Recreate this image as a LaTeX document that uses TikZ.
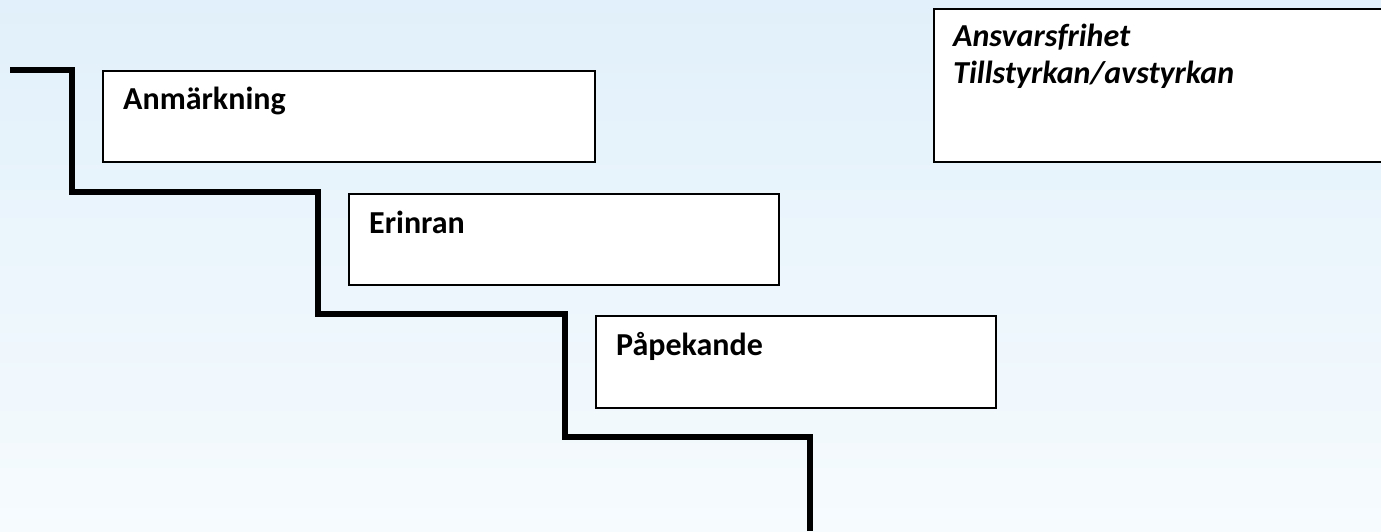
\documentclass[tikz,border=0pt]{standalone}
\usepackage{fontspec}
\setmainfont{Carlito}
\usepackage{xcolor}
\usetikzlibrary{calc,positioning}
\definecolor{bgtop}{RGB}{225,240,250}
\definecolor{bgbot}{RGB}{246,251,254}
\tikzset{%
	box/.style   = {draw, line width=1.6pt, fill=white, rectangle, anchor=north west, inner sep=0pt},
	lbl/.style   = {anchor=base west, inner sep=0pt, font=\fontsize{32}{32}\selectfont\bfseries},
	lblit/.style = {lbl, font=\fontsize{32}{32}\selectfont\bfseries\itshape},
	stair/.style = {line width=5.5pt, line join=miter},
}
\begin{document}
\begin{tikzpicture}[x=1pt,y=1pt]
	% background
	\shade[top color=bgtop, bottom color=bgbot] (0,0) rectangle (1381,531);
	\useasboundingbox (0,0) rectangle (1381,531);
	
	% stairs
	\draw[stair] (10,461) -- (72,461) -- (72,339) -- (318,339) -- (318,217) -- (565,217) -- (565,94) -- (810,94) -- (810,0);
	
	% boxes
	\node[box, minimum width=492, minimum height=91] (anm) at (102,461) {};
	\node[box, minimum width=430, minimum height=91] (eri) at (348,338) {};
	\node[box, minimum width=400, minimum height=92] (pap) at (595,216) {};
	\node[box, minimum width=460, minimum height=153] (ans) at (933,523) {};
	
	% texts
	\node[lbl] (anmtxt) at ($(anm.north west)+(21,-40)$) {Anmärkning};
	\node[lbl] (eritxt) at ($(eri.north west)+(21,-40)$) {Erinran};
	\node[lbl] (paptxt) at ($(pap.north west)+(21,-40)$) {Påpekande};
	\node[lblit] (anstxt) at ($(ans.north west)+(20,-39)$) {Ansvarsfrihet};
	\node[lblit] (tiltxt) at ($(anstxt.base west)+(0,-37)$) {Tillstyrkan/avstyrkan};
\end{tikzpicture}
\end{document}
